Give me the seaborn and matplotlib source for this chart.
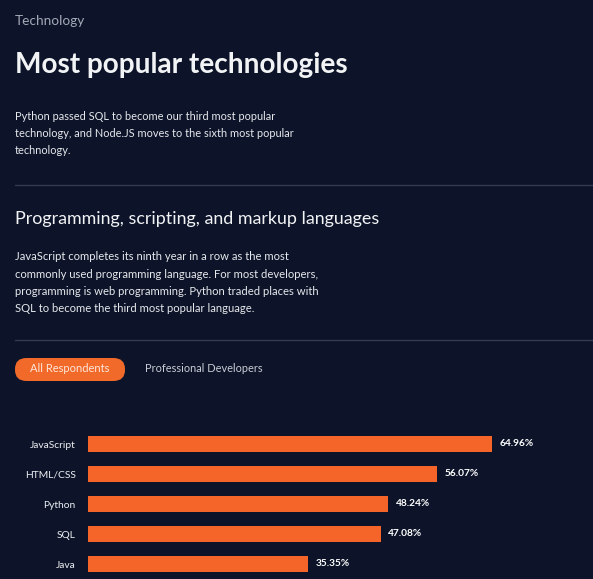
import matplotlib
matplotlib.use("Agg")
import matplotlib.pyplot as plt
from matplotlib.patches import FancyBboxPatch
import seaborn as sns
import pandas as pd

# Data
languages = ["JavaScript", "HTML/CSS", "Python", "SQL", "Java"]
pct = [64.96, 56.07, 48.24, 47.08, 35.35]

BG = "#0d1429"
ORANGE = "#f5652a"
W, H = 593, 579

sns.set_theme(style="dark")
plt.rcParams['font.family'] = ['Lato', 'DejaVu Sans']

fig = plt.figure(figsize=(W / 100, H / 100), dpi=100, facecolor=BG)


def px(x, y):
    # pixel coords (top-left origin) -> figure fraction
    return x / W, 1 - y / H


def text(x, y, s, **kw):
    fx, fy = px(x, y)
    fig.text(fx, fy, s, va="center", ha=kw.pop("ha", "left"), **kw)


# Header texts
text(15, 21, "Technology", color="#a3a9b6", fontsize=9.8)
text(15, 65, "Most popular technologies", color="#f2f3f5", fontsize=20.2, fontweight="bold")
para1 = ["Python passed SQL to become our third most popular",
         "technology, and Node.JS moves to the sixth most popular",
         "technology."]
for i, line in enumerate(para1):
    text(15, 116 + i * 17.5, line, color="#e6e8ec", fontsize=7.9)

fig.add_artist(plt.Line2D([15 / W, 1], [1 - 185 / H] * 2, color="#323b52", lw=1))

text(15, 219, "Programming, scripting, and markup languages", color="#f2f3f5", fontsize=12.9)
para2 = ["JavaScript completes its ninth year in a row as the most",
         "commonly used programming language. For most developers,",
         "programming is web programming. Python traded places with",
         "SQL to become the third most popular language."]
for i, line in enumerate(para2):
    text(15, 257 + i * 17.2, line, color="#e6e8ec", fontsize=8.1)

fig.add_artist(plt.Line2D([15 / W, 1], [1 - 340 / H] * 2, color="#323b52", lw=1))

# Tab pills
pill = FancyBboxPatch((15 / W, 1 - 381 / H), 110 / W, 23 / H,
                      boxstyle="round,pad=0,rounding_size=0.0194",
                      transform=fig.transFigure, facecolor="#f26a2a",
                      edgecolor="none", mutation_aspect=H / W)
fig.add_artist(pill)
text(70, 369, "All Respondents", color="#fde6da", fontsize=8, ha="center")
text(145, 369, "Professional Developers", color="#c9ccd4", fontsize=7.9)

# Bar chart
ax = fig.add_axes([88 / W, 0, (W - 88) / W, 150 / H])
ax.set_facecolor(BG)
df = pd.DataFrame({"language": languages, "pct": pct})
sns.barplot(data=df, x="pct", y="language", color=ORANGE, saturation=1,
            width=0.53, linewidth=0, edgecolor="none", ax=ax)
ax.set_xlim(0, (W - 88) / 6.22)
ax.set_ylim(4.5, -0.5)
ax.set_xlabel("")
ax.set_ylabel("")
ax.set_xticks([])
ax.tick_params(axis="y", length=0, pad=9, colors="#eef0f3", labelsize=7.4)
for s in ax.spines.values():
    s.set_visible(False)
ax.grid(False)
for i, v in enumerate(pct):
    ax.text(v + 1.2, i, f"{v:.2f}%", va="center", ha="left",
            color="#ffffff", fontsize=7.3, fontweight="bold")

fig.savefig("out.png", dpi=100, facecolor=BG)
